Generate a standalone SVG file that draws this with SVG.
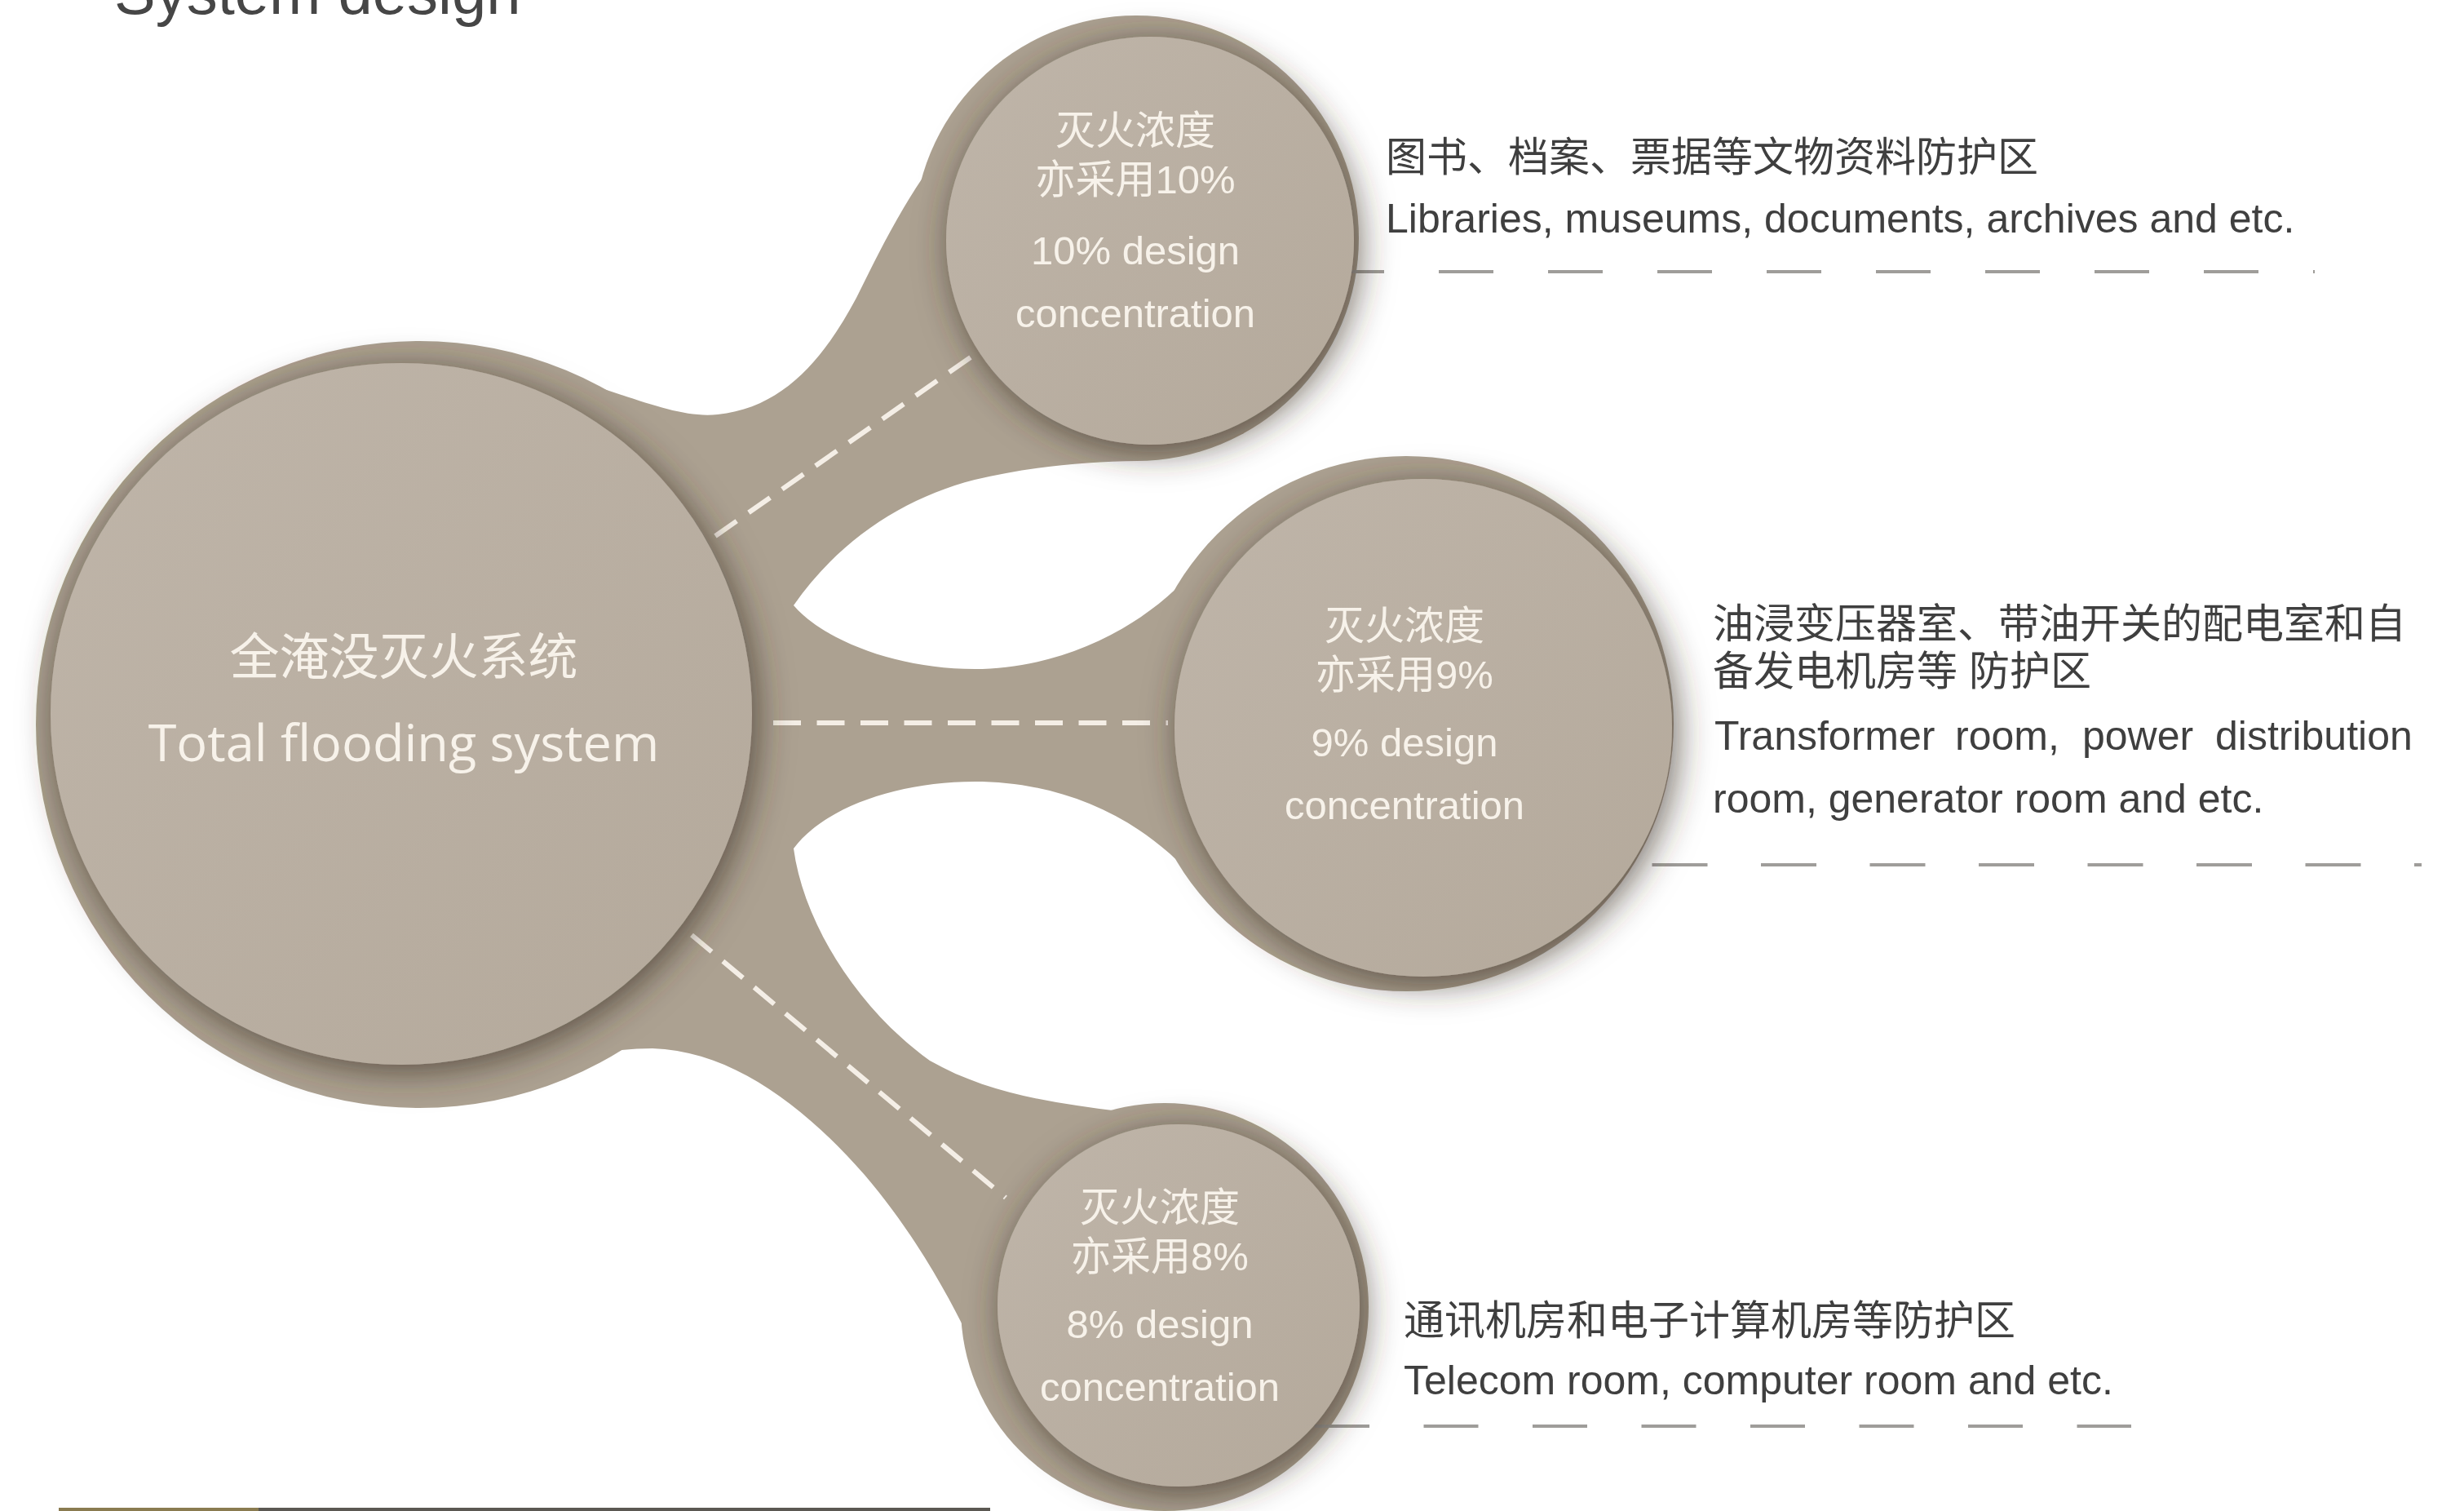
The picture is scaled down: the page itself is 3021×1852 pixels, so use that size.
<svg xmlns="http://www.w3.org/2000/svg" width="3021" height="1852" viewBox="0 0 3021 1852">
<defs>
<style>
.back{fill:#aca191}
.stem{fill:#aca191}
.front{fill:url(#fg)}
.wd{fill:none;stroke:#f4eee6;stroke-width:6}
.gd{fill:none;stroke:#9f9d9a;stroke-width:4}
.ct{font-family:"Liberation Sans","Noto Sans CJK SC",sans-serif;fill:#f7f2ea;text-anchor:middle;font-size:49px}
.big{font-family:"Open Sans","Noto Sans CJK SC",sans-serif;fill:#f7f2ea;text-anchor:middle}
.rt{font-family:"Liberation Sans","Noto Sans CJK SC",sans-serif;fill:#3f3f3f;font-size:50px}
</style>
<linearGradient id="fg" x1="0" y1="0" x2="1" y2="1">
<stop offset="0" stop-color="#bfb5a9"/>
<stop offset="1" stop-color="#b4a99b"/>
</linearGradient>
<filter id="sh" x="-25%" y="-25%" width="150%" height="150%">
<feGaussianBlur in="SourceAlpha" stdDeviation="22" result="b"/>
<feOffset in="b" dx="6" dy="8" result="o"/>
<feFlood flood-color="#3b3024" flood-opacity="0.72"/>
<feComposite in2="o" operator="in"/>
<feMerge><feMergeNode/><feMergeNode in="SourceGraphic"/></feMerge>
</filter>
</defs>
<rect width="3021" height="1852" fill="#ffffff"/>
<text x="140" y="17" font-family="Liberation Sans, sans-serif" font-size="76" fill="#464646">System design</text>
<rect x="72" y="1848" width="1142" height="4" fill="#5b5852"/>
<rect x="72" y="1848" width="245" height="4" fill="#8a7b50"/>

<g id="base">
<circle class="back" cx="514" cy="888" r="470"/>
<circle class="back" cx="1393" cy="292" r="273"/>
<circle class="back" cx="1724" cy="887" r="328"/>
<circle class="back" cx="1428" cy="1602" r="250"/>
</g>

<g id="connectors">
<path class="stem" d="M 640,450 C 740,468 820,515 880,508 C 960,500 1010,440 1050,365 C 1075,315 1100,262 1140,205 L 1393,292 L 1395,565 C 1330,566 1262,572 1195,588 C 1110,610 1030,660 973,742 L 850,760 Z"/>
<path class="stem" d="M 900,735 L 973,742 C 1010,785 1100,820 1195,820 C 1300,820 1405,770 1470,692 L 1724,887 L 1470,1083 C 1400,1000 1300,958 1195,958 C 1100,958 1010,990 973,1040 L 900,1045 Z"/>
<path class="stem" d="M 955,1000 L 973,1040 C 985,1130 1050,1235 1140,1300 C 1210,1340 1290,1352 1372,1362 L 1428,1602 L 1195,1655 C 1165,1590 1120,1510 1060,1440 C 990,1360 900,1288 800,1285 C 740,1285 690,1300 650,1322 Z"/>
<path class="wd" d="M 877,657 L 1197,433" stroke-dasharray="32 18"/>
<path class="wd" d="M 948,886 L 1432,886" stroke-dasharray="34 19.5"/>
<path class="wd" d="M 848,1146 L 1233,1468" stroke-dasharray="32 18"/>
<path class="gd" d="M 1630,333 H 2838" stroke-dasharray="67 67"/>
<path class="gd" d="M 1892,1060 H 2969" stroke-dasharray="68 65.5"/>
<path class="gd" d="M 1612,1748 H 2613" stroke-dasharray="67 66.5"/>
</g>

<g id="node-total">
<circle class="front" cx="492" cy="875" r="430" filter="url(#sh)"/>
<text class="big" x="495" y="827" font-size="61">全淹没灭火系统</text>
<text class="big" x="495" y="933" font-size="63">Total flooding system</text>
</g>

<g id="node-10">
<circle class="front" cx="1410" cy="295" r="250" filter="url(#sh)"/>
<text class="ct" x="1392" y="177">灭火浓度</text>
<text class="ct" x="1392" y="237">亦采用10%</text>
<text class="ct" x="1392" y="324" font-size="48">10% design</text>
<text class="ct" x="1392" y="401" font-size="48">concentration</text>
</g>

<g id="node-9">
<circle class="front" cx="1745" cy="892" r="305" filter="url(#sh)"/>
<text class="ct" x="1722" y="784">灭火浓度</text>
<text class="ct" x="1722" y="844">亦采用9%</text>
<text class="ct" x="1722" y="927" font-size="48">9% design</text>
<text class="ct" x="1722" y="1004" font-size="48">concentration</text>
</g>

<g id="node-8">
<circle class="front" cx="1445" cy="1600" r="222" filter="url(#sh)"/>
<text class="ct" x="1422" y="1497">灭火浓度</text>
<text class="ct" x="1422" y="1557">亦采用8%</text>
<text class="ct" x="1422" y="1640" font-size="48">8% design</text>
<text class="ct" x="1422" y="1717" font-size="48">concentration</text>
</g>

<g id="label-10">
<text class="rt" x="1699" y="210">图书、档案、票据等文物资料防护区</text>
<text class="rt" x="1699" y="285">Libraries, museums, documents, archives and etc.</text>
</g>

<g id="label-9">
<text class="rt" x="2100" y="782">油浸变压器室、带油开关的配电室和自</text>
<text class="rt" x="2100" y="840">备发电机房等 防护区</text>
<text class="rt" y="919"><tspan x="2102">Transformer</tspan><tspan x="2397">room,</tspan><tspan x="2553">power</tspan><tspan x="2716">distribution</tspan></text>
<text class="rt" x="2100" y="996">room, generator room and etc.</text>
</g>

<g id="label-8">
<text class="rt" x="1721" y="1636">通讯机房和电子计算机房等防护区</text>
<text class="rt" x="1721" y="1709">Telecom room, computer room and etc.</text>
</g>
</svg>
